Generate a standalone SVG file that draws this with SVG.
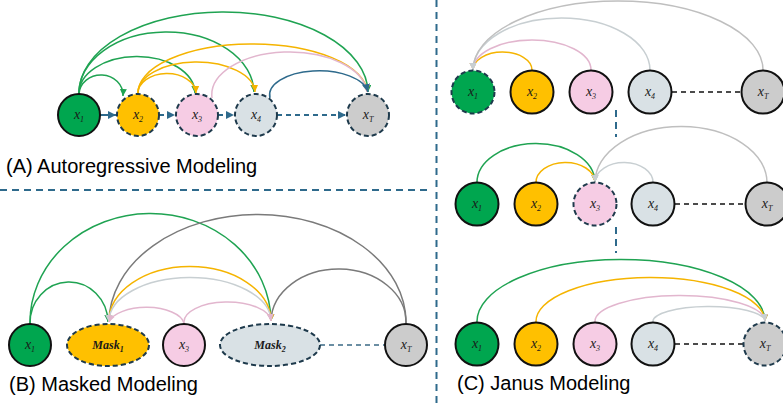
<svg xmlns="http://www.w3.org/2000/svg" width="783" height="404" viewBox="0 0 783 404">
<defs>
<style>
.lbl{font-family:"Liberation Serif","DejaVu Serif",serif;font-style:italic;font-size:14px;fill:#1a1a1a;text-anchor:middle}
.mlbl{font-family:"Liberation Serif","DejaVu Serif",serif;font-style:italic;font-weight:bold;font-size:12px;fill:#1a1a1a;text-anchor:middle}
.sub{font-size:8px}
.title{font-family:"Liberation Sans",Arial,sans-serif;font-size:20px;fill:#000}
.solid{stroke:#111;stroke-width:2}
.dash{stroke:#1E3A4C;stroke-width:2;stroke-dasharray:5 3}
.arc{fill:none;stroke-width:1.5}
.g{stroke:#1FA352}
.y{stroke:#F5B400}
.p{stroke:#E2B6CE}
.l{stroke:#C8CFD2}
.k{stroke:#7A7A7A}
.kc{stroke:#BFBFBF}
.b{stroke:#2E6A8C}
.st{stroke:#2E6A8C;stroke-width:2;fill:none}
.sep{stroke:#2E6A8C;stroke-width:2;stroke-dasharray:7 5;fill:none}
.blk{stroke:#111;stroke-width:1.5;stroke-dasharray:5 4;fill:none}
.bd{stroke:#3B6A85;stroke-width:1.5;stroke-dasharray:5 4;fill:none}
.fg{fill:#00A64F}.fy{fill:#FFC000}.fp{fill:#F6CCE4}.fl{fill:#D9E1E5}.fk{fill:#CCCCCC}
</style>
<marker id="mg" markerUnits="userSpaceOnUse" markerWidth="8" markerHeight="8" refX="7" refY="3.5" orient="auto"><path d="M0,0 L7,3.5 L0,7 z" fill="#1FA352"/></marker>
<marker id="my" markerUnits="userSpaceOnUse" markerWidth="8" markerHeight="8" refX="7" refY="3.5" orient="auto"><path d="M0,0 L7,3.5 L0,7 z" fill="#F5B400"/></marker>
<marker id="mp" markerUnits="userSpaceOnUse" markerWidth="8" markerHeight="8" refX="7" refY="3.5" orient="auto"><path d="M0,0 L7,3.5 L0,7 z" fill="#E2B6CE"/></marker>
<marker id="ml" markerUnits="userSpaceOnUse" markerWidth="8" markerHeight="8" refX="7" refY="3.5" orient="auto"><path d="M0,0 L7,3.5 L0,7 z" fill="#C8CFD2"/></marker>
<marker id="mk" markerUnits="userSpaceOnUse" markerWidth="8" markerHeight="8" refX="7" refY="3.5" orient="auto"><path d="M0,0 L7,3.5 L0,7 z" fill="#9A9A9A"/></marker>
<marker id="mb" markerUnits="userSpaceOnUse" markerWidth="9" markerHeight="9" refX="8" refY="4" orient="auto"><path d="M0,0 L8,4 L0,8 z" fill="#2E6A8C"/></marker>
</defs>
<rect width="783" height="404" fill="#fff"/>

<!-- separators -->
<g id="separators">
<path class="sep" d="M0,190 L432,190"/>
<path class="sep" d="M436.5,0 L436.5,404"/>
<path class="sep" d="M616,110 L616,137"/>
<path class="sep" d="M616,227 L616,253"/>
</g>

<!-- connectors -->
<g id="connectors">
<!-- Panel A -->
<path class="arc g" marker-end="url(#mg)" d="M79,94 A22,20 0 0 1 123,96"/>
<path class="arc g" marker-end="url(#mg)" d="M79,94 A58,37 0 0 1 195,93"/>
<path class="arc g" marker-end="url(#mg)" d="M79,94 A87.5,61 0 0 1 254,92"/>
<path class="arc g" marker-end="url(#mg)" d="M79,94 A144.5,81 0 0 1 368,92"/>
<path class="arc y" marker-end="url(#my)" d="M138,94 A29,20 0 0 1 196,93"/>
<path class="arc y" marker-end="url(#my)" d="M138,94 A58.5,31 0 0 1 255,92"/>
<path class="arc y" marker-end="url(#my)" d="M138,94 A114.5,49 0 0 1 367,92"/>
<path class="arc p" marker-end="url(#mp)" d="M212,98 A77.5,43 0 0 1 367,92"/>
<path class="arc b" marker-end="url(#mb)" d="M270,98 A49,24 0 0 1 368,92"/>
<path class="st" marker-end="url(#mb)" d="M100,115 L116,115"/>
<path class="st" stroke-dasharray="5 4" marker-end="url(#mb)" d="M159,115 L175,115"/>
<path class="st" stroke-dasharray="5 4" marker-end="url(#mb)" d="M218,115 L234,115"/>
<path class="st" stroke-dasharray="5 4" marker-end="url(#mb)" d="M277,115 L346,115"/>
<!-- Panel B -->
<path class="arc g" marker-end="url(#mg)" d="M30,324 A39,41 0 0 1 108,322"/>
<path class="arc g" marker-end="url(#mg)" d="M30,324 A120.5,109 0 0 1 271,321"/>
<path class="arc k" marker-end="url(#mk)" d="M406,323 A148.5,108 0 0 0 109,322"/>
<path class="arc k" marker-end="url(#mk)" d="M406,323 A67.5,53 0 0 0 271,321"/>
<path class="arc y" marker-end="url(#my)" d="M109,322 A81,55 0 0 1 271,321"/>
<path class="arc l" marker-end="url(#ml)" d="M271,321 A81,44 0 0 0 109,322"/>
<path class="arc p" marker-end="url(#mp)" d="M184,323 A38,18 0 0 0 109,322"/>
<path class="arc p" marker-end="url(#mp)" d="M184,323 A43.5,20 0 0 1 271,321"/>
<path class="bd" d="M320,345 L385,345"/>
<!-- Panel C top -->
<path class="arc y" marker-end="url(#my)" d="M532,70 A29.5,18 0 0 0 473,70"/>
<path class="arc p" marker-end="url(#mp)" d="M591,70 A59,30 0 0 0 473,70"/>
<path class="arc l" marker-end="url(#ml)" d="M650,70 A88.5,52 0 0 0 473,70"/>
<path class="arc kc" marker-end="url(#ml)" d="M763,70 A145,69 0 0 0 473,70"/>
<path class="blk" d="M672,92 L741,92"/>
<!-- Panel C middle -->
<path class="arc g" marker-end="url(#mg)" d="M477,183 A59,39 0 0 1 595,182"/>
<path class="arc y" marker-end="url(#my)" d="M536,183 A29.5,20 0 0 1 595,182"/>
<path class="arc l" marker-end="url(#ml)" d="M653,183 A29,20 0 0 0 595,182"/>
<path class="arc kc" marker-end="url(#ml)" d="M767,183 A86,56 0 0 0 595,182"/>
<path class="blk" d="M675,204 L745,204"/>
<!-- Panel C bottom -->
<path class="arc g" marker-end="url(#mg)" d="M477,322 A144,62 0 0 1 765,321"/>
<path class="arc y" marker-end="url(#my)" d="M536,322 A114.5,44 0 0 1 765,321"/>
<path class="arc p" marker-end="url(#mp)" d="M595,322 A85,26 0 0 1 765,321"/>
<path class="arc l" marker-end="url(#ml)" d="M653,322 A56,15 0 0 1 765,321"/>
<path class="blk" d="M675,344 L743,344"/>
</g>

<!-- Panel A nodes -->
<g id="a-x1"><circle cx="79" cy="115" r="21" class="fg solid"/><text x="79" y="119" class="lbl">x<tspan class="sub" dy="3">1</tspan></text></g>
<g id="a-x2"><circle cx="138" cy="115" r="21" class="fy dash"/><text x="138" y="119" class="lbl">x<tspan class="sub" dy="3">2</tspan></text></g>
<g id="a-x3"><circle cx="197" cy="115" r="21" class="fp dash"/><text x="197" y="119" class="lbl">x<tspan class="sub" dy="3">3</tspan></text></g>
<g id="a-x4"><circle cx="256" cy="115" r="21" class="fl dash"/><text x="256" y="119" class="lbl">x<tspan class="sub" dy="3">4</tspan></text></g>
<g id="a-xT"><circle cx="368" cy="115" r="21" class="fk dash"/><text x="368" y="119" class="lbl">x<tspan class="sub" dy="3">T</tspan></text></g>
<text class="title" x="6" y="173">(A) Autoregressive Modeling</text>

<!-- Panel B nodes -->
<g id="b-x1"><circle cx="30" cy="345" r="21" class="fg solid"/><text x="30" y="349" class="lbl">x<tspan class="sub" dy="3">1</tspan></text></g>
<g id="b-mask1"><ellipse cx="108" cy="345" rx="41" ry="21" class="fy dash"/><text x="108" y="349" class="mlbl">Mask<tspan class="sub" dy="3">1</tspan></text></g>
<g id="b-x3"><circle cx="184" cy="345" r="21" class="fp solid"/><text x="184" y="349" class="lbl">x<tspan class="sub" dy="3">3</tspan></text></g>
<g id="b-mask2"><ellipse cx="270" cy="345" rx="50" ry="21" class="fl dash"/><text x="270" y="349" class="mlbl">Mask<tspan class="sub" dy="3">2</tspan></text></g>
<g id="b-xT"><circle cx="406" cy="345" r="21" class="fk solid"/><text x="406" y="349" class="lbl">x<tspan class="sub" dy="3">T</tspan></text></g>
<text class="title" x="9" y="391">(B) Masked Modeling</text>

<!-- Panel C top -->
<g id="c1-x1"><circle cx="473" cy="92" r="21.5" class="fg dash"/><text x="473" y="96" class="lbl">x<tspan class="sub" dy="3">1</tspan></text></g>
<g id="c1-x2"><circle cx="532" cy="92" r="21.5" class="fy solid"/><text x="532" y="96" class="lbl">x<tspan class="sub" dy="3">2</tspan></text></g>
<g id="c1-x3"><circle cx="591" cy="92" r="21.5" class="fp solid"/><text x="591" y="96" class="lbl">x<tspan class="sub" dy="3">3</tspan></text></g>
<g id="c1-x4"><circle cx="650" cy="92" r="21.5" class="fl solid"/><text x="650" y="96" class="lbl">x<tspan class="sub" dy="3">4</tspan></text></g>
<g id="c1-xT"><circle cx="763" cy="92" r="21.5" class="fk solid"/><text x="763" y="96" class="lbl">x<tspan class="sub" dy="3">T</tspan></text></g>

<!-- Panel C middle -->
<g id="c2-x1"><circle cx="477" cy="204" r="21.5" class="fg solid"/><text x="477" y="208" class="lbl">x<tspan class="sub" dy="3">1</tspan></text></g>
<g id="c2-x2"><circle cx="536" cy="204" r="21.5" class="fy solid"/><text x="536" y="208" class="lbl">x<tspan class="sub" dy="3">2</tspan></text></g>
<g id="c2-x3"><circle cx="595" cy="204" r="21.5" class="fp dash"/><text x="595" y="208" class="lbl">x<tspan class="sub" dy="3">3</tspan></text></g>
<g id="c2-x4"><circle cx="653" cy="204" r="21.5" class="fl solid"/><text x="653" y="208" class="lbl">x<tspan class="sub" dy="3">4</tspan></text></g>
<g id="c2-xT"><circle cx="767" cy="204" r="21.5" class="fk solid"/><text x="767" y="208" class="lbl">x<tspan class="sub" dy="3">T</tspan></text></g>

<!-- Panel C bottom -->
<g id="c3-x1"><circle cx="477" cy="344" r="21.5" class="fg solid"/><text x="477" y="348" class="lbl">x<tspan class="sub" dy="3">1</tspan></text></g>
<g id="c3-x2"><circle cx="536" cy="344" r="21.5" class="fy solid"/><text x="536" y="348" class="lbl">x<tspan class="sub" dy="3">2</tspan></text></g>
<g id="c3-x3"><circle cx="595" cy="344" r="21.5" class="fp solid"/><text x="595" y="348" class="lbl">x<tspan class="sub" dy="3">3</tspan></text></g>
<g id="c3-x4"><circle cx="653" cy="344" r="21.5" class="fl solid"/><text x="653" y="348" class="lbl">x<tspan class="sub" dy="3">4</tspan></text></g>
<g id="c3-xT"><circle cx="765" cy="344" r="21.5" class="fk dash"/><text x="765" y="348" class="lbl">x<tspan class="sub" dy="3">T</tspan></text></g>
<text class="title" x="457" y="390">(C) Janus Modeling</text>
</svg>
